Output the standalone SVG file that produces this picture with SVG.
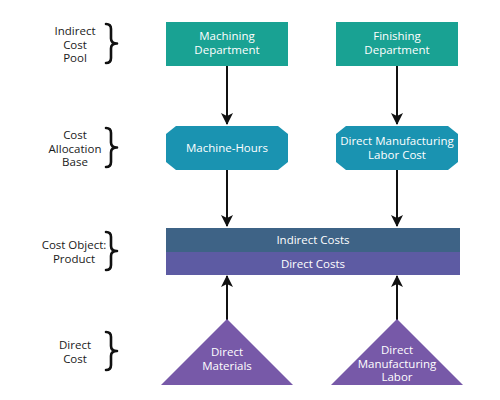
<svg xmlns="http://www.w3.org/2000/svg" width="500" height="400" viewBox="0 0 500 400">
<style>
.lbl{font-family:"Open Sans","Noto Sans",sans-serif;font-size:11.5px;fill:#1a1a1a;text-anchor:middle}
.nt{font-family:"Open Sans","Noto Sans",sans-serif;font-size:11.5px;fill:#ffffff;text-anchor:middle}
.brace{fill:none;stroke:#111;stroke-width:2.6;stroke-linecap:round;stroke-linejoin:round}
.conn{stroke:#111;stroke-width:2;fill:none}
</style>
<defs>
<marker id="ah" markerUnits="userSpaceOnUse" markerWidth="12" markerHeight="12" viewBox="0 0 12 12" refX="11" refY="6" orient="auto">
<path d="M0,0 L12,6 L0,12 L3,6 z" fill="#111"/>
</marker>
</defs>
<rect width="500" height="400" fill="#ffffff"/>
<g id="labels">
<text class="lbl" x="75" y="35"><tspan x="75">Indirect</tspan><tspan x="75" dy="13.500">Cost</tspan><tspan x="75" dy="13.500">Pool</tspan></text>
<path class="brace" d="M106,24 Q111,24 111,29 L111,38.500 Q111,43.500 117,43.500 Q111,43.500 111,48.500 L111,58 Q111,63 106,63"/>
<text class="lbl" x="75" y="139"><tspan x="75">Cost</tspan><tspan x="75" dy="13.500">Allocation</tspan><tspan x="75" dy="13.500">Base</tspan></text>
<path class="brace" d="M106,128 Q111,128 111,133 L111,142.500 Q111,147.500 117,147.500 Q111,147.500 111,152.500 L111,162 Q111,167 106,167"/>
<text class="lbl" x="74" y="249"><tspan x="74">Cost Object:</tspan><tspan x="74" dy="13.500">Product</tspan></text>
<path class="brace" d="M106,232 Q111,232 111,237 L111,246 Q111,251 117,251 Q111,251 111,256 L111,265 Q111,270 106,270"/>
<text class="lbl" x="75" y="349"><tspan x="75">Direct</tspan><tspan x="75" dy="13.500">Cost</tspan></text>
<path class="brace" d="M106,332 Q111,332 111,337 L111,346 Q111,351 117,351 Q111,351 111,356 L111,365 Q111,370 106,370"/>
</g>
<g id="connectors">
<line class="conn" x1="227" y1="66" x2="227" y2="124" marker-end="url(#ah)"/>
<line class="conn" x1="397" y1="66" x2="397" y2="124" marker-end="url(#ah)"/>
<line class="conn" x1="227" y1="170" x2="227" y2="226" marker-end="url(#ah)"/>
<line class="conn" x1="397" y1="170" x2="397" y2="226" marker-end="url(#ah)"/>
<line class="conn" x1="227" y1="320" x2="227" y2="276" marker-end="url(#ah)"/>
<line class="conn" x1="397" y1="320" x2="397" y2="276" marker-end="url(#ah)"/>
</g>
<g id="machining">
<rect x="166" y="22" width="122" height="44" fill="#19a293"/>
<text class="nt" x="227" y="40"><tspan x="227">Machining</tspan><tspan x="227" dy="13.500">Department</tspan></text>
</g>
<g id="finishing">
<rect x="336" y="22" width="122" height="44" fill="#19a293"/>
<text class="nt" x="397" y="40"><tspan x="397">Finishing</tspan><tspan x="397" dy="13.500">Department</tspan></text>
</g>
<g id="machine-hours">
<polygon points="176,126 278,126 288,134 288,162 278,170 176,170 166,162 166,134" fill="#1a93b1"/>
<text class="nt" x="227" y="152">Machine-Hours</text>
</g>
<g id="labor-cost">
<polygon points="346,126 448,126 458,134 458,162 448,170 346,170 336,162 336,134" fill="#1a93b1"/>
<text class="nt" x="397" y="145"><tspan x="397">Direct Manufacturing</tspan><tspan x="397" dy="13.500">Labor Cost</tspan></text>
</g>
<g id="product">
<rect x="166" y="228" width="294" height="24" fill="#3e6386"/>
<rect x="166" y="252" width="294" height="23" fill="#5d5ba3"/>
<text class="nt" x="313" y="244">Indirect Costs</text>
<text class="nt" x="313" y="268">Direct Costs</text>
</g>
<g id="direct-materials">
<polygon points="227,319 293,385 161,385" fill="#7759a8"/>
<text class="nt" x="227" y="356"><tspan x="227">Direct</tspan><tspan x="227" dy="13.500">Materials</tspan></text>
</g>
<g id="direct-labor">
<polygon points="397,319 463,385 331,385" fill="#7759a8"/>
<text class="nt" x="397" y="354"><tspan x="397">Direct</tspan><tspan x="397" dy="13.500">Manufacturing</tspan><tspan x="397" dy="13.500">Labor</tspan></text>
</g>
</svg>
